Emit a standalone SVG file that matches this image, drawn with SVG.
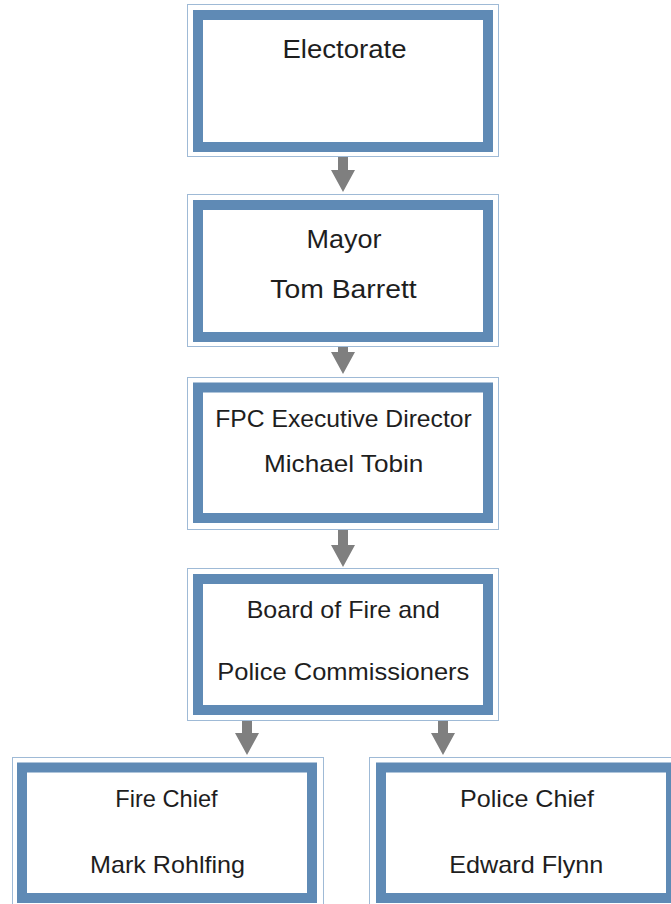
<svg xmlns="http://www.w3.org/2000/svg" width="671" height="904" viewBox="0 0 671 904">
  <defs>
    <style>
      .frame { fill: #ffffff; stroke: #9fbad6; stroke-width: 1; }
      .band { fill: none; stroke: #5f8ab5; stroke-width: 10; }
      .label { font-family: "Liberation Sans", Arial, sans-serif; font-size: 24px; fill: #1e1e1e; text-anchor: middle; }
      .big { font-size: 26px; }
      .arrow { fill: #7f7f7f; }
    </style>
  </defs>
  <rect width="671" height="904" fill="#ffffff"/>

  <!-- Connectors -->
  <g id="connectors">
    <polygon class="arrow" points="338,157 348,157 348,170 355,170 343,192 331,170 338,170"/>
    <polygon class="arrow" points="338,347 348,347 348,352 355,352 343,374 331,352 338,352"/>
    <polygon class="arrow" points="338,529 348,529 348,545 355,545 343,567 331,545 338,545"/>
    <polygon class="arrow" points="242,720 252,720 252,733 259,733 247,755 235,733 242,733"/>
    <polygon class="arrow" points="438,720 448,720 448,733 455,733 443,755 431,733 438,733"/>
  </g>

  <!-- Electorate -->
  <g id="electorate">
    <rect class="frame" x="187.5" y="4.5" width="311" height="152"/>
    <rect class="band" x="198" y="15" width="290" height="132"/>
    <text class="label big" x="344.5" y="57.5" textLength="124" lengthAdjust="spacingAndGlyphs">Electorate</text>
  </g>

  <!-- Mayor -->
  <g id="mayor">
    <rect class="frame" x="187.5" y="194.5" width="311" height="152"/>
    <rect class="band" x="198" y="205" width="290" height="132"/>
    <text class="label big" x="344" y="248.3" textLength="75" lengthAdjust="spacingAndGlyphs">Mayor</text>
    <text class="label big" x="343.5" y="298.3" textLength="146.5" lengthAdjust="spacingAndGlyphs">Tom Barrett</text>
  </g>

  <!-- FPC Executive Director -->
  <g id="fpc-director">
    <rect class="frame" x="187.5" y="377.5" width="311" height="152"/>
    <rect class="band" x="198" y="387.5" width="290" height="130.5"/>
    <text class="label" x="343.5" y="427.3" textLength="256.5" lengthAdjust="spacingAndGlyphs">FPC Executive Director</text>
    <text class="label" x="343.7" y="471.7" textLength="159.3" lengthAdjust="spacingAndGlyphs">Michael Tobin</text>
  </g>

  <!-- Board of Fire and Police Commissioners -->
  <g id="board">
    <rect class="frame" x="187.5" y="568.5" width="311" height="152"/>
    <rect class="band" x="198" y="579" width="290" height="131"/>
    <text class="label" x="343.3" y="618.3" textLength="193.3" lengthAdjust="spacingAndGlyphs">Board of Fire and</text>
    <text class="label" x="343.3" y="680" textLength="252" lengthAdjust="spacingAndGlyphs">Police Commissioners</text>
  </g>

  <!-- Fire Chief -->
  <g id="fire-chief">
    <rect class="frame" x="12.5" y="757.5" width="311" height="152"/>
    <rect class="band" x="22" y="767.5" width="290" height="130.5"/>
    <text class="label" x="166.5" y="806.7" textLength="102.3" lengthAdjust="spacingAndGlyphs">Fire Chief</text>
    <text class="label" x="167.5" y="873.3" textLength="155" lengthAdjust="spacingAndGlyphs">Mark Rohlfing</text>
  </g>

  <!-- Police Chief -->
  <g id="police-chief">
    <rect class="frame" x="369.5" y="757.5" width="311" height="152"/>
    <rect class="band" x="381" y="767.5" width="290" height="130.5"/>
    <text class="label" x="527" y="806.7" textLength="134" lengthAdjust="spacingAndGlyphs">Police Chief</text>
    <text class="label" x="526.3" y="873.3" textLength="154" lengthAdjust="spacingAndGlyphs">Edward Flynn</text>
  </g>
</svg>
